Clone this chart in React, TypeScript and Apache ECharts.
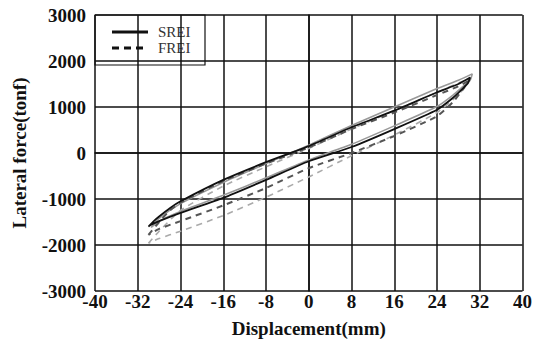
import React, { useEffect, useRef } from "react";
import * as echarts from "echarts";

const xTicks = [-40, -32, -24, -16, -8, 0, 8, 16, 24, 32, 40];
const yTicks = [-3000, -2000, -1000, 0, 1000, 2000, 3000];
const legendNames = ["SREI", "FREI"];

const sreiAX = [-30, -29, -28, -26, -24, -16, -8, 0, 8, 16, 24, 28, 30.2, 29.8, 29, 27, 24, 16, 8, 0, -8, -16, -24, -28, -29.5, -30];
const sreiAY = [-1600, -1480, -1380, -1200, -1050, -585, -200, 150, 560, 920, 1320, 1500, 1640, 1520, 1420, 1200, 940, 520, 130, -180, -585, -975, -1300, -1480, -1560, -1600];

const sreiBX = [-29.5, -28, -24, -16, -8, 0, 8, 16, 24, 28, 30.6, 30.2, 29, 27, 24, 16, 8, 0, -8, -16, -24, -28, -29.5];
const sreiBY = [-1620, -1420, -1100, -640, -230, 170, 600, 1000, 1400, 1580, 1720, 1580, 1460, 1260, 1010, 590, 190, -150, -540, -920, -1270, -1480, -1620];

const freiAX = [-30, -28, -26, -24, -16, -8, 0, 8, 16, 24, 28, 29.8, 29.2, 27, 24, 16, 8, 0, -8, -16, -24, -28, -30];
const freiAY = [-1780, -1500, -1250, -1080, -610, -230, 120, 520, 880, 1260, 1450, 1560, 1440, 1110, 800, 370, 0, -330, -760, -1140, -1480, -1650, -1780];

const freiBX = [-30, -28, -24, -16, -8, 0, 8, 16, 24, 28, 30, 29.5, 27, 24, 16, 8, 0, -8, -16, -24, -28, -30];
const freiBY = [-1960, -1700, -1250, -720, -300, 100, 520, 920, 1320, 1520, 1620, 1460, 1160, 880, 390, -60, -520, -960, -1360, -1700, -1860, -1960];

const pairs = (xs: number[], ys: number[]) => xs.map((x, i) => [x, ys[i]]);

const FONT = "Liberation Serif";

export default function App() {
  const ref = useRef<HTMLDivElement>(null);
  useEffect(() => {
    if (!ref.current) return;
    const chart = echarts.init(ref.current, null, { renderer: "svg" });
    const axisText = { fontFamily: FONT, fontWeight: "bold" as const, fontSize: 19, color: "#111" };
    chart.setOption({
      animation: false,
      backgroundColor: "#fff",
      grid: { left: 95, top: 15, right: 8, bottom: 51 },
      graphic: [
        {
          type: "group",
          z: 100,
          children: [
            { type: "rect", shape: { x: 95, y: 15, width: 110, height: 50 }, style: { fill: "#fff", stroke: "#111", lineWidth: 1.2 } },
            { type: "line", shape: { x1: 112, y1: 32, x2: 148, y2: 32 }, style: { stroke: "#111", lineWidth: 3 } },
            { type: "line", shape: { x1: 112, y1: 48, x2: 148, y2: 48 }, style: { stroke: "#111", lineWidth: 3, lineDash: [7, 5] } },
            { type: "text", x: 158, y: 32, style: { text: legendNames[0], font: `15px ${FONT}`, fill: "#333", verticalAlign: "middle" } },
            { type: "text", x: 158, y: 48, style: { text: legendNames[1], font: `15px ${FONT}`, fill: "#333", verticalAlign: "middle" } },
          ],
        },
      ],
      xAxis: {
        type: "value",
        min: -40,
        max: 40,
        interval: 8,
        name: "Displacement(mm)",
        nameLocation: "middle",
        nameGap: 28,
        nameTextStyle: { ...axisText },
        axisLine: { lineStyle: { color: "#111", width: 1.5 } },
        axisTick: { show: false },
        axisLabel: { ...axisText, margin: 1, formatter: (v: number) => (xTicks.includes(v) ? String(v) : "") },
        splitLine: { show: true, lineStyle: { color: "#111", width: 1.5 } },
      },
      yAxis: {
        type: "value",
        min: -3000,
        max: 3000,
        interval: 1000,
        name: "Lateral force(tonf)",
        nameLocation: "middle",
        nameGap: 66,
        nameTextStyle: { ...axisText },
        axisLine: { lineStyle: { color: "#111", width: 1.5 } },
        axisTick: { show: false },
        axisLabel: { ...axisText, margin: 9, formatter: (v: number) => (yTicks.includes(v) ? String(v) : "") },
        splitLine: { show: true, lineStyle: { color: "#111", width: 1.5 } },
      },
      series: [
        {
          name: "FREI",
          type: "line",
          symbol: "none",
          smooth: 0.2,
          data: pairs(freiBX, freiBY),
          lineStyle: { color: "#aaa", width: 1.6, type: [6, 5] },
          z: 2,
        },
        {
          name: "SREI",
          type: "line",
          symbol: "none",
          smooth: 0.2,
          data: pairs(sreiBX, sreiBY),
          lineStyle: { color: "#999", width: 1.6, type: "solid" },
          z: 2,
        },
        {
          name: "FREI",
          type: "line",
          symbol: "none",
          smooth: 0.2,
          data: pairs(freiAX, freiAY),
          lineStyle: { color: "#555", width: 2, type: [6, 5] },
          z: 3,
        },
        {
          name: "SREI",
          type: "line",
          symbol: "none",
          smooth: 0.2,
          data: pairs(sreiAX, sreiAY),
          lineStyle: { color: "#111", width: 1.8, type: "solid" },
          z: 4,
        },
      ],
    });
    return () => chart.dispose();
  }, []);
  return <div ref={ref} style={{ width: 535, height: 343, position: "absolute", left: 0, top: 0 }} />;
}
